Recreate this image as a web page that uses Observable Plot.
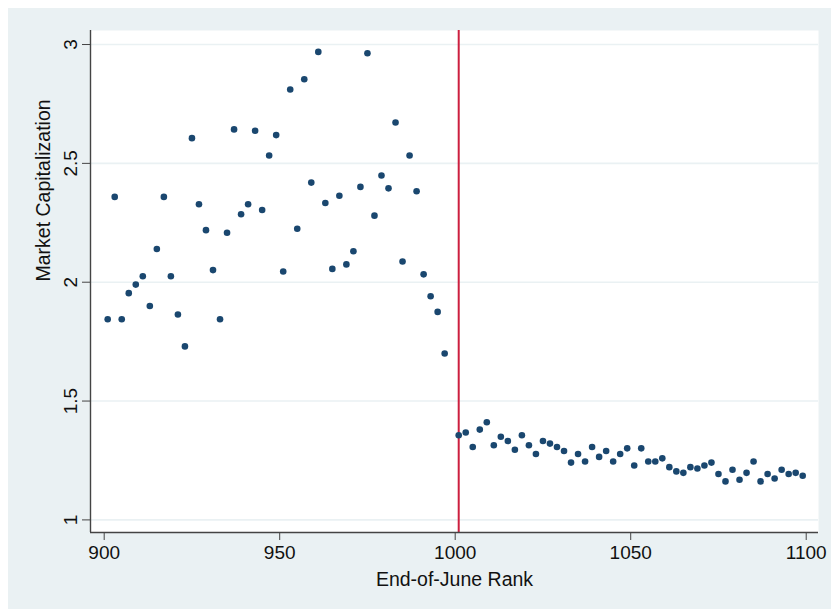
<!DOCTYPE html>
<html>
<head>
<meta charset="utf-8">
<script src="https://cdn.jsdelivr.net/npm/d3@7"></script>
<script src="https://cdn.jsdelivr.net/npm/@observablehq/plot@0.6"></script>
<style>
  html, body { margin: 0; padding: 0; background: #ffffff; width: 831px; height: 609px; overflow: hidden; }
  #bg { position: absolute; left: 8px; top: 8px; right: 0; bottom: 0; background: #eaf1f3; }
  #chart { position: absolute; left: 0; top: 0; }
</style>
</head>
<body>
<div id="bg"></div>
<div id="chart"></div>
<script>
// Ranks below the 1000 cutoff and their market capitalization
const LEFT_RANKS = [901,903,905,907,909,911,913,915,917,919,921,923,925,927,929,931,933,935,937,939,941,943,945,947,949,951,953,955,957,959,961,963,965,967,969,971,973,975,977,979,981,983,985,987,989,991,993,995,997];
const LEFT_VALUES = [1.844,2.359,1.844,1.954,1.990,2.025,1.900,2.140,2.359,2.025,1.864,1.730,2.606,2.328,2.219,2.051,1.844,2.208,2.643,2.286,2.328,2.637,2.304,2.533,2.619,2.045,2.811,2.225,2.854,2.419,2.969,2.333,2.056,2.364,2.075,2.130,2.401,2.963,2.280,2.449,2.395,2.672,2.087,2.533,2.383,2.033,1.941,1.875,1.700];

// Ranks above the cutoff
const RIGHT_RANKS = [1001,1003,1005,1007,1009,1011,1013,1015,1017,1019,1021,1023,1025,1027,1029,1031,1033,1035,1037,1039,1041,1043,1045,1047,1049,1051,1053,1055,1057,1059,1061,1063,1065,1067,1069,1071,1073,1075,1077,1079,1081,1083,1085,1087,1089,1091,1093,1095,1097,1099];
const RIGHT_VALUES = [1.356,1.368,1.307,1.380,1.411,1.314,1.350,1.332,1.295,1.356,1.314,1.277,1.332,1.321,1.307,1.290,1.241,1.277,1.246,1.307,1.265,1.290,1.246,1.277,1.301,1.229,1.301,1.246,1.246,1.259,1.222,1.204,1.198,1.222,1.216,1.229,1.241,1.193,1.162,1.211,1.169,1.198,1.246,1.162,1.193,1.174,1.211,1.193,1.198,1.186];

const CUTOFF = [1001];
const X_TICKS = [900, 950, 1000, 1050, 1100];
const Y_TICKS = [1, 1.5, 2, 2.5, 3];
const X_DOMAIN = [896.1, 1103.5];
const Y_DOMAIN = [0.947, 3.059];
const X_TITLE = "End-of-June Rank";
const Y_TITLE = "Market Capitalization";

const points = LEFT_RANKS.map((r, i) => ({rank: r, cap: LEFT_VALUES[i]}))
  .concat(RIGHT_RANKS.map((r, i) => ({rank: r, cap: RIGHT_VALUES[i]})));

const FONT = "'Liberation Sans', Arial, Helvetica, sans-serif";
const plain = d => String(d);

const chart = Plot.plot({
  width: 831,
  height: 609,
  marginLeft: 90,
  marginRight: 13,
  marginTop: 30,
  marginBottom: 77,
  style: { background: "transparent", fontFamily: FONT, fontSize: "19px", color: "#111" },
  x: { domain: X_DOMAIN, axis: null },
  y: { domain: Y_DOMAIN, axis: null },
  marks: [
    Plot.frame({ fill: "white", stroke: "none" }),
    Plot.gridY(Y_TICKS, { stroke: "#eaf1f3", strokeOpacity: 1, strokeWidth: 1.6 }),
    Plot.ruleX(CUTOFF, { stroke: "#cc1f3f", strokeWidth: 2 }),
    Plot.dot(points, { x: "rank", y: "cap", r: 3.3, fill: "#1a476f", stroke: "none" }),
    Plot.ruleX([X_DOMAIN[0]], { stroke: "#444", strokeWidth: 1.4 }),
    Plot.ruleY([Y_DOMAIN[0]], { stroke: "#444", strokeWidth: 1.4 }),
    Plot.axisX({ ticks: X_TICKS, tickFormat: plain, tickSize: 8, tickPadding: 5, fontSize: 19, label: null, stroke: "#444" }),
    Plot.axisY({ ticks: Y_TICKS, tickFormat: plain, tickSize: 8, tickPadding: 6, tickRotate: -90, fontSize: 19, label: null, stroke: "#444" }),
    Plot.text([X_TITLE], { frameAnchor: "bottom", dy: 47, fontSize: 19.5, lineAnchor: "middle", fill: "#111" }),
    Plot.text([Y_TITLE], { frameAnchor: "left", dx: -47, rotate: -90, fontSize: 19.5, lineAnchor: "middle", fill: "#111" })
  ]
});
document.getElementById("chart").appendChild(chart);
</script>
</body>
</html>
